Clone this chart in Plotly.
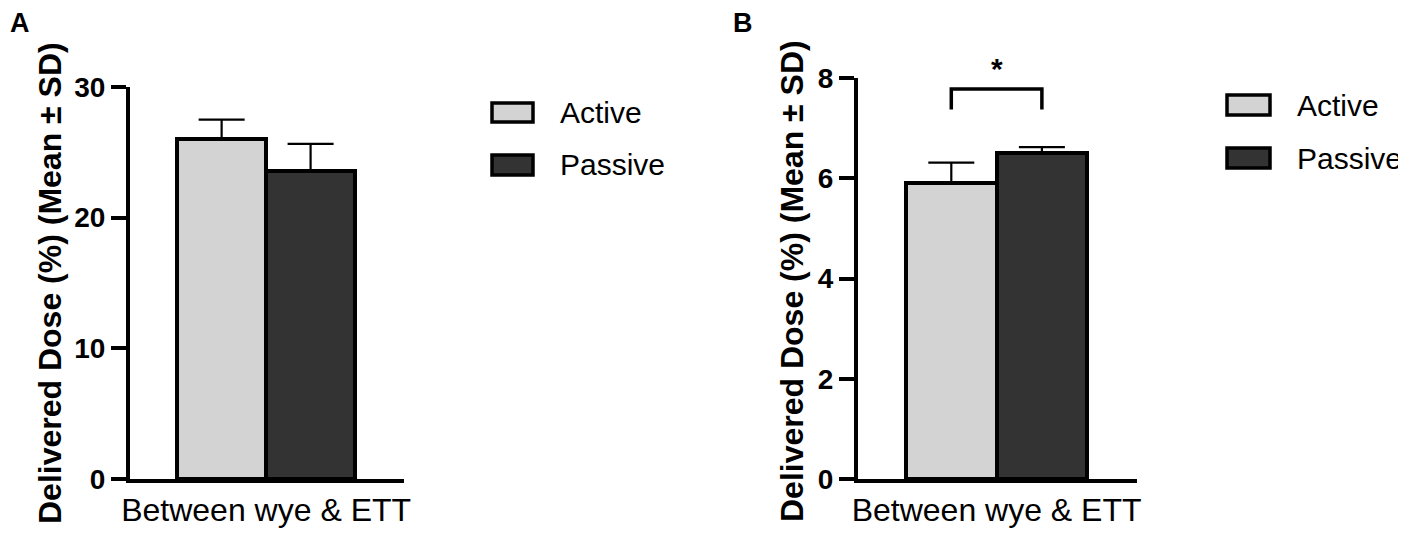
import plotly.graph_objects as go

# page body has an 8px margin: size the figure so it fits the 1406x535 window
OFF = 8
W, H = 1406 - OFF, 535 - OFF

# ---------------- data ----------------
category = "Between wye & ETT"
series = ["Active", "Passive"]
colors = ["#d3d3d3", "#333333"]

a_mean = [26.0, 23.6]
a_sd = [1.5, 2.05]
a_ticks = [0, 10, 20, 30]

b_mean = [5.91, 6.51]
b_sd = [0.40, 0.11]
b_ticks = [0, 2, 4, 6, 8]

sig_top = 7.78
sig_leg = 7.37
sig_label = "*"

y_title = "Delivered Dose (%) (Mean ± SD)"
panel_labels = ["A", "B"]

# ---------------- helpers (screen px -> paper fraction) ----------------
def px(x):
    return (x - OFF) / W

def py(y):
    return 1 - (y - OFF) / H

FONT = "Liberation Sans, Arial, sans-serif"
pos = list(range(len(series)))

fig = go.Figure()

for mean, sd, xa, ya in [(a_mean, a_sd, "x", "y"), (b_mean, b_sd, "x2", "y2")]:
    fig.add_trace(go.Bar(
        x=pos, y=mean, width=1, xaxis=xa, yaxis=ya,
        marker=dict(color=colors, line=dict(color="black", width=4)),
        error_y=dict(type="data", array=sd, arrayminus=[0] * len(sd), symmetric=False,
                     color="black", thickness=2.2, width=23),
        showlegend=False, hoverinfo="skip",
    ))

# significance bracket on panel B
fig.add_trace(go.Scatter(
    x=[pos[0], pos[0], pos[1], pos[1]], y=[sig_leg, sig_top, sig_top, sig_leg],
    mode="lines", line=dict(color="black", width=3.5), xaxis="x2", yaxis="y2",
    showlegend=False, hoverinfo="skip",
))

ybot = py(479)
yaxis_common = dict(
    showline=True, linewidth=4, linecolor="black", ticks="outside", ticklen=15,
    tickwidth=4, tickcolor="black", showgrid=False, zeroline=False, automargin=False,
    tickfont=dict(family=FONT, size=28, color="black", weight="bold"),
)
xaxis_common = dict(
    showline=True, linewidth=4, linecolor="black", ticks="", showgrid=False, zeroline=False,
    automargin=False, range=[-1.03, 2.05],
    tickvals=[sum(pos) / len(pos)], ticktext=[category],
    tickfont=dict(family=FONT, size=32, color="black"),
)

fig.update_layout(
    width=W, height=H, margin=dict(l=0, r=0, t=0, b=0, pad=0, autoexpand=False),
    paper_bgcolor="white", plot_bgcolor="white", showlegend=False,
    font=dict(family=FONT, color="black"),
    xaxis=dict(domain=[px(130), px(404)], anchor="y", **xaxis_common),
    yaxis=dict(domain=[ybot, py(87)], range=[0, a_ticks[-1]], tickvals=a_ticks, anchor="x", **yaxis_common),
    xaxis2=dict(domain=[px(858), px(1137)], anchor="y2", **xaxis_common),
    yaxis2=dict(domain=[ybot, py(78)], range=[0, b_ticks[-1]], tickvals=b_ticks, anchor="x2", **yaxis_common),
    bargap=0,
)

ann = []
shapes = []
# y titles
for xc, yc in [(50, 283), (792, 281)]:
    ann.append(dict(x=px(xc), y=py(yc), xref="paper", yref="paper", text=y_title, textangle=-90,
                    showarrow=False, xanchor="center", yanchor="middle",
                    font=dict(family=FONT, size=32, color="black", weight="bold")))
# panel letters
for lab, (xc, yc) in zip(panel_labels, [(20, 23), (743, 23)]):
    ann.append(dict(x=px(xc), y=py(yc), xref="paper", yref="paper", text=lab, showarrow=False,
                    xanchor="center", yanchor="middle",
                    font=dict(family=FONT, size=27, color="black", weight="bold")))
# significance star
ann.append(dict(x=(pos[0] + pos[1]) / 2, y=sig_top, xref="x2", yref="y2", text=sig_label,
                showarrow=False, xanchor="center", yanchor="bottom", yshift=2,
                font=dict(family=FONT, size=30, color="black", weight="bold")))

# custom legends
legend_layout = [
    (492, 533, 558, [(103, 122), (155, 175)]),
    (1227, 1270, 1295, [(95, 115), (148, 168)]),
]
for x0, x1, xt, rows in legend_layout:
    for name, col, (y0, y1) in zip(series, colors, rows):
        shapes.append(dict(type="rect", xref="paper", yref="paper",
                           x0=px(x0), x1=px(x1), y0=py(y1), y1=py(y0),
                           fillcolor=col, line=dict(color="black", width=3.5)))
        ann.append(dict(x=px(xt), y=py((y0 + y1) / 2), xref="paper", yref="paper", text=name,
                        showarrow=False, xanchor="left", yanchor="middle",
                        font=dict(family=FONT, size=30, color="black")))

fig.update_layout(annotations=ann, shapes=shapes)
fig.write_html("out.html")
